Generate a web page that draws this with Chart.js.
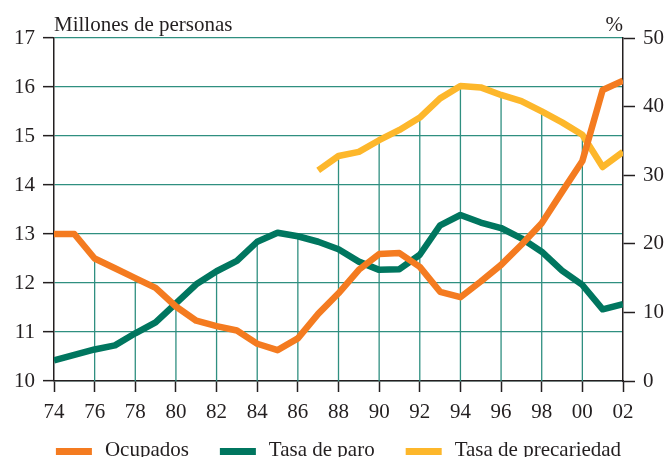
<!DOCTYPE html>
<html>
<head>
<meta charset="utf-8">
<script src="https://cdn.jsdelivr.net/npm/chart.js@4.4.0/dist/chart.umd.min.js"></script>
<style>
html, body { margin: 0; padding: 0; background: #fff; }
#wrap { width: 666px; height: 457px; }
</style>
</head>
<body>
<div id="wrap"><canvas id="chart"></canvas></div>
<script>
const years = [1974, 1975, 1976, 1977, 1978, 1979, 1980, 1981, 1982, 1983, 1984, 1985, 1986, 1987,
    1988, 1989, 1990, 1991, 1992, 1993, 1994, 1995, 1996, 1997, 1998, 1999, 2000, 2001, 2002]
// millones de personas (eje izquierdo)
const ocupados = [13.0, 13.0, 12.5, 12.3, 12.1, 11.9, 11.52, 11.23, 11.12, 11.03, 10.76, 10.63, 10.87, 11.37,
    11.79, 12.27, 12.59, 12.61, 12.33, 11.82, 11.71, 12.03, 12.37, 12.78, 13.22, 13.86, 14.49, 15.94, 16.13]
// % (eje derecho)
const paro = [3.0, 3.8, 4.6, 5.2, 6.95, 8.55, 11.3, 14.1, 16.0, 17.5, 20.3, 21.6, 21.1, 20.3,
    19.2, 17.4, 16.2, 16.3, 18.4, 22.7, 24.2, 23.1, 22.3, 20.8, 18.85, 16.1, 14.0, 10.45, 11.2]
const precariedad = [null, null, null, null, null, null, null, null, null, null, null, null, null, 30.7,
    32.8, 33.4, 35.1, 36.6, 38.4, 41.2, 43.0, 42.8, 41.7, 40.8, 39.3, 37.7, 35.9, 31.2, 33.4]

const gridColor = '#2f8f80'
const inkColor = '#231f20'
const serif = 'Liberation Serif, Times New Roman, serif'
const fontSize = 21

function points(values) {
    return years.map((y, i) => ({ x: y, y: values[i] }))
}

// vertical lines from the x axis up to the highest curve
const dropLines = {
    id: 'dropLines',
    beforeDatasetsDraw(chart) {
        const { ctx, chartArea, scales } = chart
        ctx.save()
        ctx.strokeStyle = gridColor
        ctx.lineWidth = 1.3
        scales.x.ticks.forEach(t => {
            if (t.value <= scales.x.min || t.value >= scales.x.max) return
            const i = years.indexOf(t.value)
            let top = chartArea.bottom
            chart.data.datasets.forEach(ds => {
                const v = ds.data[i].y
                if (v == null) return
                top = Math.min(top, scales[ds.yAxisID].getPixelForValue(v))
            })
            const px = scales.x.getPixelForValue(t.value)
            ctx.beginPath()
            ctx.moveTo(px, chartArea.bottom)
            ctx.lineTo(px, top)
            ctx.stroke()
        })
        ctx.restore()
    }
}

// unit labels over the axes and the legend row at the bottom
const extras = {
    id: 'extras',
    afterDraw(chart) {
        const { ctx, chartArea } = chart
        ctx.save()
        ctx.font = fontSize + 'px ' + serif
        ctx.fillStyle = inkColor
        ctx.textBaseline = 'alphabetic'
        ctx.textAlign = 'left'
        ctx.fillText('Millones de personas', chartArea.left, 31)
        ctx.textAlign = 'right'
        ctx.fillText('%', chartArea.right, 31)

        const box = 36, gap = 13, sep = 31
        const items = chart.data.datasets.map(ds => ({
            text: ds.label, color: ds.borderColor, w: ctx.measureText(ds.label).width
        }))
        const total = items.reduce((s, it) => s + box + gap + it.w, 0) + sep * (items.length - 1)
        let x = (chartArea.left + chartArea.right) / 2 - total / 2
        ctx.textAlign = 'left'
        items.forEach(it => {
            ctx.fillStyle = it.color
            ctx.fillRect(x, 448, box, 7)
            ctx.fillStyle = inkColor
            ctx.fillText(it.text, x + box + gap, 456)
            x += box + gap + it.w + sep
        })
        ctx.restore()
    }
}

const ctx = document.getElementById('chart').getContext('2d')
const chart = new Chart(ctx, {
    type: 'line',
    plugins: [dropLines, extras],
    data: {
        datasets: [{
            label: 'Ocupados',
            data: points(ocupados),
            yAxisID: 'y',
            borderColor: '#f47b20'
        }, {
            label: 'Tasa de paro',
            data: points(paro),
            yAxisID: 'y1',
            borderColor: '#00765f'
        }, {
            label: 'Tasa de precariedad',
            data: points(precariedad),
            yAxisID: 'y1',
            borderColor: '#fdb72b'
        }]
    },
    options: {
        responsive: true,
        maintainAspectRatio: false,
        animation: false,
        layout: { padding: { top: 38, left: 0, right: 0, bottom: 0 } },
        elements: {
            line: { borderWidth: 6.5, tension: 0, borderJoinStyle: 'round', borderCapStyle: 'butt' },
            point: { radius: 0, hoverRadius: 0 }
        },
        scales: {
            x: {
                type: 'linear',
                min: 1974,
                max: 2002,
                afterFit: s => { s.height = 76 },
                ticks: {
                    stepSize: 2,
                    padding: 8,
                    color: inkColor,
                    font: { size: fontSize, family: serif },
                    maxRotation: 0,
                    callback: v => String(v).slice(2)
                },
                grid: { drawOnChartArea: false, tickLength: 11, tickColor: inkColor, tickWidth: 1.5 },
                border: { color: inkColor, width: 1.5 }
            },
            y: {
                position: 'left',
                min: 10,
                max: 17,
                afterFit: s => { s.width = 54 },
                ticks: {
                    stepSize: 1,
                    padding: 8,
                    color: inkColor,
                    font: { size: fontSize, family: serif }
                },
                grid: { color: gridColor, lineWidth: 1.3, tickLength: 11, tickColor: inkColor, tickWidth: 1.5 },
                border: { color: inkColor, width: 1.5 }
            },
            y1: {
                position: 'right',
                min: 0,
                max: 50,
                afterFit: s => { s.width = 43 },
                ticks: {
                    stepSize: 10,
                    padding: 8,
                    color: inkColor,
                    font: { size: fontSize, family: serif }
                },
                grid: { drawOnChartArea: false, tickLength: 12, tickColor: inkColor, tickWidth: 1.5 },
                border: { color: inkColor, width: 1.5 }
            }
        },
        plugins: {
            legend: { display: false },
            tooltip: { enabled: false }
        }
    }
})
</script>
</body>
</html>
